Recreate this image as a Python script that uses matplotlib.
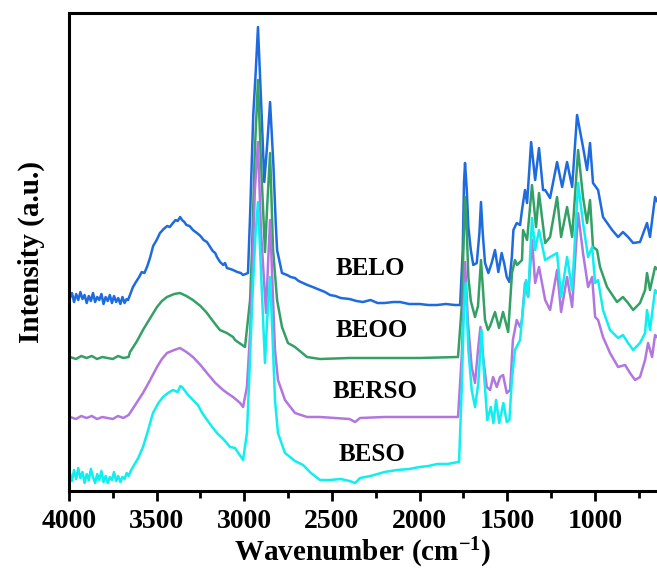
import numpy as np
import matplotlib
matplotlib.use("Agg")
import matplotlib.pyplot as plt
from matplotlib.ticker import MultipleLocator

# FTIR spectra (wavenumber in cm-1, intensity in a.u. incl. offset)
belo_wn = [3995, 3983, 3971, 3959, 3947, 3935, 3923, 3911, 3899, 3887, 3875, 3863, 3851, 3839,
           3827, 3815, 3803, 3791, 3779, 3767, 3755, 3743, 3731, 3719, 3707, 3695, 3683, 3671,
           3663, 3648, 3635, 3618, 3600, 3585, 3570, 3555, 3538, 3520, 3500, 3481, 3460, 3440,
           3425, 3407, 3392, 3380, 3366, 3355, 3342, 3330, 3312, 3293, 3270, 3250, 3232, 3213,
           3195, 3180, 3166, 3156, 3138, 3120, 3110, 3099, 3080, 3064, 3040, 3020, 3007, 2979,
           2967, 2958, 2949, 2935, 2922, 2901, 2886, 2870, 2853, 2834, 2821, 2813, 2785, 2756,
           2735, 2711, 2690, 2665, 2640, 2610, 2568, 2540, 2511, 2480, 2450, 2400, 2360, 2323,
           2280, 2240, 2200, 2150, 2112, 2060, 2000, 1950, 1900, 1850, 1800, 1781, 1769, 1754,
           1747, 1741, 1731, 1722, 1708, 1694, 1674, 1659, 1650, 1640, 1627, 1608, 1589, 1570,
           1551, 1532, 1518, 1503, 1488, 1474, 1465, 1446, 1427, 1416, 1399, 1387, 1364, 1341,
           1319, 1296, 1284, 1256, 1216, 1187, 1159, 1130, 1102, 1068, 1045, 1028, 1011, 982,
           954, 902, 868, 840, 811, 782, 743, 703, 686, 657, 646]
belo_int = [193, 198, 189, 197, 191, 199, 192, 196, 188, 195, 190, 198, 189, 194,
            191, 197, 187, 194, 190, 196, 188, 195, 189, 193, 187, 194, 188, 192,
            191, 198, 204, 209, 214, 219, 218, 224, 233, 245, 251, 258, 262, 265,
            264, 268, 271, 270, 274, 271, 269, 266, 265, 261, 258, 255, 251, 249,
            244, 240, 238, 234, 229, 226, 228, 223, 222, 221, 219, 218, 216, 218,
            276, 326, 376, 419, 464, 376, 309, 345, 389, 326, 269, 241, 218, 216,
            214, 213, 210, 208, 206, 204, 201, 199, 196, 195, 193, 192, 190, 189,
            191, 188, 188, 189, 189, 187, 187, 186, 186, 187, 186, 186, 186, 241,
            308, 328, 301, 264, 241, 226, 228, 258, 289, 258, 228, 218, 228, 241,
            219, 238, 228, 214, 209, 234, 261, 268, 266, 281, 301, 288, 349, 311,
            343, 301, 301, 293, 329, 304, 329, 304, 376, 344, 321, 348, 308, 301,
            274, 261, 254, 259, 254, 248, 249, 268, 254, 294, 290]

beoo_wn = [3995, 3960, 3930, 3900, 3870, 3840, 3810, 3780, 3750, 3720, 3690, 3660, 3652, 3615,
           3578, 3540, 3498, 3470, 3441, 3400, 3367, 3330, 3293, 3250, 3213, 3175, 3139, 3100,
           3064, 3053, 2996, 2967, 2956, 2940, 2922, 2905, 2882, 2868, 2853, 2836, 2813, 2785,
           2751, 2711, 2642, 2568, 2400, 2200, 2000, 1781, 1760, 1747, 1741, 1731, 1722, 1708,
           1684, 1667, 1650, 1627, 1610, 1598, 1570, 1547, 1524, 1495, 1473, 1456, 1444, 1416,
           1410, 1387, 1359, 1336, 1319, 1284, 1256, 1216, 1193, 1159, 1130, 1096, 1068, 1045,
           1028, 1011, 988, 971, 931, 874, 840, 811, 782, 743, 714, 703, 686, 657, 646]
beoo_int = [134, 132, 135, 133, 135, 132, 134, 133, 132, 135, 133, 134, 139, 149,
            161, 172, 184, 190, 194, 197, 198, 195, 191, 185, 178, 169, 161, 158,
            154, 151, 144, 191, 241, 340, 411, 330, 239, 290, 338, 241, 191, 164,
            148, 144, 134, 132, 133, 133, 133, 134, 184, 260, 294, 260, 214, 190,
            174, 185, 231, 171, 161, 165, 179, 163, 179, 159, 218, 231, 226, 231,
            261, 251, 306, 264, 298, 248, 254, 294, 254, 284, 254, 341, 294, 268,
            291, 244, 241, 224, 204, 189, 194, 188, 181, 188, 201, 218, 201, 224, 222]

berso_wn = [3995, 3960, 3930, 3900, 3870, 3840, 3810, 3780, 3750, 3720, 3690, 3660, 3652, 3615,
            3578, 3540, 3498, 3470, 3441, 3400, 3367, 3330, 3293, 3250, 3213, 3165, 3121, 3090,
            3064, 3024, 3007, 2985, 2967, 2956, 2940, 2922, 2905, 2876, 2864, 2853, 2836, 2825,
            2808, 2768, 2711, 2642, 2568, 2400, 2368, 2340, 2200, 2000, 1781, 1760, 1741, 1724,
            1703, 1684, 1667, 1653, 1638, 1617, 1598, 1581, 1560, 1541, 1524, 1503, 1484, 1468,
            1446, 1427, 1416, 1399, 1381, 1359, 1341, 1319, 1284, 1256, 1216, 1193, 1159, 1130,
            1096, 1068, 1039, 1016, 999, 982, 954, 914, 868, 828, 800, 771, 743, 714, 697,
            674, 657, 646]
berso_int = [74, 72, 75, 73, 75, 72, 74, 73, 72, 75, 73, 76, 78, 88,
             98, 110, 124, 132, 138, 141, 143, 139, 134, 126, 118, 108, 101, 97,
             94, 88, 84, 104, 158, 208, 300, 349, 260, 178, 230, 271, 191, 141,
             111, 91, 78, 74, 74, 72, 69, 73, 74, 74, 74, 134, 229, 168,
             124, 108, 141, 164, 134, 104, 101, 114, 104, 114, 116, 98, 101, 151,
             171, 164, 171, 208, 194, 251, 208, 224, 191, 181, 221, 179, 214, 184,
             278, 238, 204, 214, 174, 171, 154, 138, 124, 126, 118, 111, 114, 131, 148,
             134, 156, 154]

beso_wn = [3995, 3983, 3971, 3959, 3947, 3935, 3923, 3911, 3899, 3887, 3875, 3863, 3851, 3839,
           3827, 3815, 3803, 3791, 3779, 3767, 3755, 3743, 3731, 3719, 3707, 3695, 3683, 3671,
           3660, 3648, 3635, 3605, 3578, 3550, 3521, 3490, 3464, 3435, 3407, 3380, 3365, 3355,
           3325, 3293, 3265, 3240, 3200, 3156, 3120, 3081, 3053, 3007, 2985, 2973, 2962, 2950,
           2935, 2922, 2905, 2882, 2870, 2853, 2836, 2825, 2808, 2768, 2711, 2665, 2620, 2568,
           2511, 2450, 2400, 2368, 2340, 2280, 2200, 2129, 2060, 2000, 1950, 1900, 1840, 1781,
           1775, 1760, 1747, 1737, 1722, 1703, 1684, 1665, 1647, 1633, 1614, 1594, 1579, 1564,
           1546, 1522, 1503, 1488, 1474, 1456, 1427, 1410, 1393, 1381, 1359, 1341, 1319, 1284,
           1256, 1216, 1193, 1159, 1130, 1096, 1068, 1039, 1016, 999, 982, 954, 914, 868,
           840, 811, 782, 743, 714, 703, 686, 657, 646]
beso_int = [18, 10, 21, 12, 23, 13, 19, 8, 17, 11, 22, 14, 8, 17,
            11, 20, 9, 15, 8, 14, 11, 19, 10, 15, 9, 14, 12, 18,
            15, 20, 24, 33, 44, 60, 78, 88, 94, 98, 101, 99, 105, 104,
            97, 91, 86, 78, 68, 58, 52, 44, 43, 31, 58, 108, 158, 208,
            260, 289, 220, 128, 170, 214, 141, 91, 58, 38, 30, 26, 18, 11,
            11, 12, 10, 8, 13, 15, 19, 21, 22, 24, 25, 27, 27, 29,
            29, 101, 184, 208, 141, 101, 84, 108, 161, 118, 71, 84, 68, 91,
            68, 88, 69, 71, 111, 141, 151, 184, 211, 194, 273, 241, 261, 231,
            234, 238, 194, 234, 201, 308, 268, 234, 244, 208, 211, 181, 161, 153,
            156, 148, 141, 148, 158, 181, 161, 201, 198]

names = ['BELO', 'BEOO', 'BERSO', 'BESO']
colors = ['#1e6be0', '#34a066', '#b276e0', '#10eef0']
label_pos = [(2283, 223), (2271, 161), (2254, 99), (2271, 36)]

plt.rcParams['font.family'] = ['Liberation Serif', 'DejaVu Serif']
plt.rcParams['font.weight'] = 'bold'
plt.rcParams['mathtext.fontset'] = 'custom'
plt.rcParams['mathtext.rm'] = 'Liberation Serif:bold'
plt.rcParams['mathtext.bf'] = 'Liberation Serif:bold'
plt.rcParams['mathtext.default'] = 'rm'

fig = plt.figure(figsize=(6.57, 5.79), dpi=100)
ax = fig.add_axes([0.105, 0.152, 0.895, 0.8255])

series = [(belo_wn, belo_int), (beoo_wn, beoo_int), (berso_wn, berso_int), (beso_wn, beso_int)]
for (wn, inten), c in zip(series, colors):
    ax.plot(wn, inten, color=c, lw=1.8, solid_joinstyle='round')

for name, (x, y) in zip(names, label_pos):
    ax.text(x, y, name, fontsize=18, fontweight='bold', ha='center', va='center')

ax.set_xlim(4000, 646)
ax.set_ylim(0, 478)
ax.xaxis.set_major_locator(MultipleLocator(500))
ax.xaxis.set_minor_locator(MultipleLocator(250))
ax.set_yticks([])
ax.tick_params(axis='x', which='major', direction='out', length=7, width=2, labelsize=20, pad=6)
ax.tick_params(axis='x', which='minor', direction='out', length=5, width=2)
for lab in ax.get_xticklabels():
    lab.set_fontweight('bold')

for s in ['left', 'bottom', 'top']:
    ax.spines[s].set_linewidth(2.2)
ax.spines['right'].set_visible(False)

ax.set_xlabel('Wavenumber (cm$^{-1}$)', fontsize=21, fontweight='bold', labelpad=1)
ax.set_ylabel('Intensity (a.u.)', fontsize=21, fontweight='bold', labelpad=17)

fig.savefig('out.png', dpi=100)
